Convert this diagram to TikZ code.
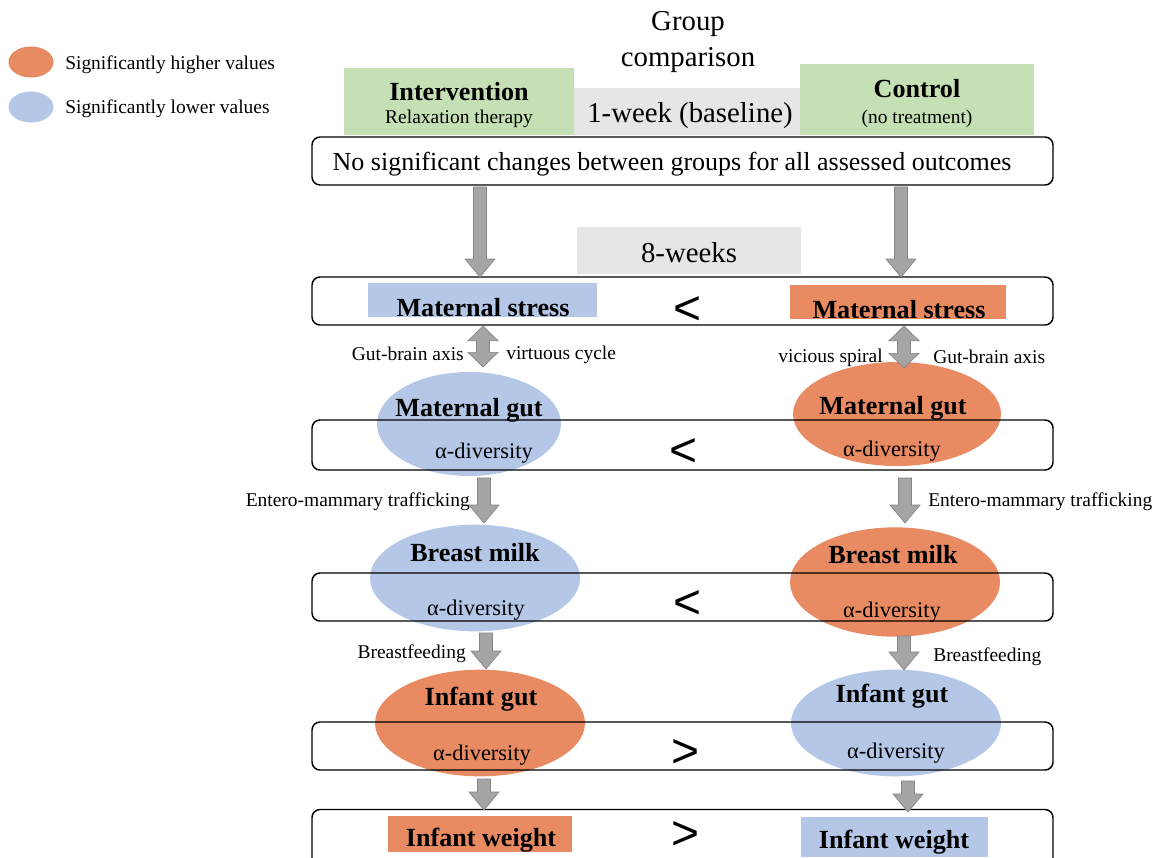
\documentclass[tikz,border=0pt]{standalone}
\usepackage{fontspec}
\setmainfont{Liberation Serif}
\newfontfamily\sansf{Liberation Sans}
\usetikzlibrary{calc,shapes.geometric}
\definecolor{orng}{HTML}{E88A62}
\definecolor{blu}{HTML}{B4C7E7}
\definecolor{grn}{HTML}{C5E0B4}
\definecolor{lgray}{HTML}{E7E6E6}
\definecolor{arrfill}{HTML}{A5A5A5}
\definecolor{arrline}{HTML}{858585}
\tikzset{
  rowbox/.style={draw=black, line width=1.1pt, rounded corners=6pt, minimum width=555.75pt, inner sep=0pt},
  flatbox/.style={inner sep=0pt, draw=none},
  oval/.style={ellipse, inner sep=0pt, draw=none},
  big/.style={font=\fontsize{21.6pt}{27pt}\selectfont, inner sep=0pt, yshift=-1.5pt},
  bold/.style={font=\fontsize{19.6pt}{23pt}\selectfont\bfseries, inner sep=0pt, yshift=-1.5pt},
  alpha/.style={font=\fontsize{16.8pt}{20pt}\selectfont, inner sep=0pt, yshift=-1.5pt},
  small/.style={font=\fontsize{14.6pt}{17pt}\selectfont, inner sep=0pt, yshift=-1pt},
  cmp/.style={font=\sansf\fontsize{36pt}{38pt}\selectfont, inner sep=0pt},
  arrowsty/.style={fill=arrfill, draw=arrline, line width=0.5pt}
}
\newcommand\blockarr[2]{\filldraw[arrowsty] let \p1=(#1), \p2=(#2) in
  (\x1-4.9pt,\y1) -- (\x1-4.9pt,\y2+13.5pt) -- (\x1-11.25pt,\y2+13.5pt) -- (\x1,\y2)
  -- (\x1+11.25pt,\y2+13.5pt) -- (\x1+4.9pt,\y2+13.5pt) -- (\x1+4.9pt,\y1) -- cycle;}
\newcommand\dblarr[2]{\filldraw[arrowsty] let \p1=(#1), \p2=(#2) in
  (\x1,\y1) -- (\x1+11.25pt,\y1-11pt) -- (\x1+4.9pt,\y1-11pt) -- (\x1+4.9pt,\y2+11pt)
  -- (\x1+11.25pt,\y2+11pt) -- (\x1,\y2) -- (\x1-11.25pt,\y2+11pt) -- (\x1-4.9pt,\y2+11pt)
  -- (\x1-4.9pt,\y1-11pt) -- (\x1-11.25pt,\y1-11pt) -- cycle;}
\begin{document}
\begin{tikzpicture}[x=0.75pt,y=-0.75pt]
\clip (0,0) rectangle (1159,857);
\fill[white] (0,0) rectangle (1159,857);

% legend
\node[oval, fill=orng, minimum width=33.75pt, minimum height=23.25pt] (leg1) at (31,62) {};
\node[oval, fill=blu, minimum width=33.75pt, minimum height=23.25pt] (leg2) at (31,107) {};
\node[small, anchor=west] (leg1t) at (65,63) {Significantly higher values};
\node[small, anchor=west] (leg2t) at (65,107) {Significantly lower values};

% header
\node[big, align=center] (gc) at (688,40) {Group\\comparison};
\node[flatbox, fill=grn, minimum width=172.5pt, minimum height=50.25pt] (intbox) at (459,101.5) {};
\node[flatbox, fill=lgray, minimum width=169.5pt, minimum height=35.25pt] (wk1box) at (687,111.5) {};
\node[flatbox, fill=grn, minimum width=175.5pt, minimum height=53.25pt] (ctlbox) at (917,99.5) {};
\node[bold] (intt) at (459,90) {Intervention};
\node[small] (intt2) at (459,118) {Relaxation therapy};
\node[bold] (ctlt) at (917,87) {Control};
\node[small] (ctlt2) at (917,117) {(no treatment)};
\node[big] (wk1t) at (690,114) {1-week (baseline)};

% row 1
\node[rowbox, minimum height=36pt] (row1) at (682.5,161) {};
\node[font=\fontsize{19.5pt}{23pt}\selectfont, inner sep=0pt, yshift=-1.5pt] (row1t) at (672,162) {No significant changes between groups for all assessed outcomes};

% 8 weeks
\node[flatbox, fill=lgray, minimum width=168pt, minimum height=35.25pt] (wk8box) at (689,250.5) {};
\node[big] (wk8t) at (689,251) {8-weeks};

% ellipses
\node[oval, fill=blu, minimum width=138pt, minimum height=78pt] (mgL) at (469,424) {};
\node[oval, fill=orng, minimum width=156pt, minimum height=78pt] (mgR) at (897,414) {};
\node[oval, fill=blu, minimum width=157.5pt, minimum height=80pt] (bmL) at (475,578) {};
\node[oval, fill=orng, minimum width=157.5pt, minimum height=82pt] (bmR) at (895,582) {};
\node[oval, fill=orng, minimum width=157.5pt, minimum height=80pt] (igL) at (480,723) {};
\node[oval, fill=blu, minimum width=157.5pt, minimum height=80pt] (igR) at (896,723) {};

% row 2
\node[rowbox, minimum height=36pt] (row2) at (682.5,301) {};
\node[flatbox, fill=blu, minimum width=171.75pt, minimum height=25.5pt] (msLbox) at (482.5,300) {};
\node[flatbox, fill=orng, minimum width=162pt, minimum height=25.5pt] (msRbox) at (898,302) {};
\node[bold] (msLt) at (483,306) {Maternal stress};
\node[bold] (msRt) at (899,308) {Maternal stress};
\node[cmp] (cmp1) at (688,311) {<};

% rows 3-6
\node[rowbox, minimum height=37.5pt] (row3) at (682.5,445) {};
\node[rowbox, minimum height=36pt] (row4) at (682.5,597) {};
\node[rowbox, minimum height=36pt] (row5) at (682.5,746) {};
\node[rowbox, minimum height=45pt] (row6) at (682.5,839.5) {};

\node[bold] (mgLt) at (469,408) {Maternal gut};
\node[alpha] (mgLa) at (484,451) {α-diversity};
\node[bold] (mgRt) at (893,406) {Maternal gut};
\node[alpha] (mgRa) at (892,449) {α-diversity};
\node[cmp] (cmp2) at (684,452) {<};

\node[bold] (bmLt) at (475,551) {Breast milk};
\node[alpha] (bmLa) at (476,608) {α-diversity};
\node[bold] (bmRt) at (893,553) {Breast milk};
\node[alpha] (bmRa) at (892,610) {α-diversity};
\node[cmp] (cmp3) at (688,604) {<};

\node[bold] (igLt) at (481,697) {Infant gut};
\node[alpha] (igLa) at (482,753) {α-diversity};
\node[bold] (igRt) at (892,694) {Infant gut};
\node[alpha] (igRa) at (896,751) {α-diversity};
\node[cmp] (cmp4) at (686,753) {>};

\node[flatbox, fill=orng, minimum width=138pt, minimum height=27pt] (iwLbox) at (480,834) {};
\node[flatbox, fill=blu, minimum width=140.25pt, minimum height=30pt] (iwRbox) at (894.5,837) {};
\node[bold] (iwLt) at (481,838) {Infant weight};
\node[bold] (iwRt) at (894,840) {Infant weight};
\node[cmp] (cmp5) at (686,835) {>};

% arrow end points
\coordinate (a1Ls) at (480,187); \coordinate (a1Le) at (480,277);
\coordinate (a1Rs) at (901,187); \coordinate (a1Re) at (901,277);
\coordinate (d1Ls) at (483,326); \coordinate (d1Le) at (483,367);
\coordinate (d1Rs) at (904,326); \coordinate (d1Re) at (904,368);
\coordinate (a2Ls) at (484,478); \coordinate (a2Le) at (484,523);
\coordinate (a2Rs) at (905,478); \coordinate (a2Re) at (905,523);
\coordinate (a3Ls) at (486,633); \coordinate (a3Le) at (486,669);
\coordinate (a3Rs) at (904,636); \coordinate (a3Re) at (904,670);
\coordinate (a4Ls) at (484,779); \coordinate (a4Le) at (484,810);
\coordinate (a4Rs) at (908,781); \coordinate (a4Re) at (908,812);

\blockarr{a1Ls}{a1Le}
\blockarr{a1Rs}{a1Re}
\dblarr{d1Ls}{d1Le}
\dblarr{d1Rs}{d1Re}
\blockarr{a2Ls}{a2Le}
\blockarr{a2Rs}{a2Re}
\blockarr{a3Ls}{a3Le}
\blockarr{a3Rs}{a3Re}
\blockarr{a4Ls}{a4Le}
\blockarr{a4Rs}{a4Re}

% arrow labels
\node[small, anchor=east] (lbl1) at (464,353) {Gut-brain axis};
\node[small, anchor=west] (lbl2) at (506,354) {virtuous cycle};
\node[small, anchor=east] (lbl3) at (883,356) {vicious spiral};
\node[small, anchor=west] (lbl4) at (933,356) {Gut-brain axis};
\node[small, anchor=east] (lbl5) at (470,500) {Entero-mammary trafficking};
\node[small, anchor=west] (lbl6) at (928,500) {Entero-mammary trafficking};
\node[small, anchor=east] (lbl7) at (466,652) {Breastfeeding};
\node[small, anchor=west] (lbl8) at (933,655) {Breastfeeding};
\end{tikzpicture}
\end{document}
